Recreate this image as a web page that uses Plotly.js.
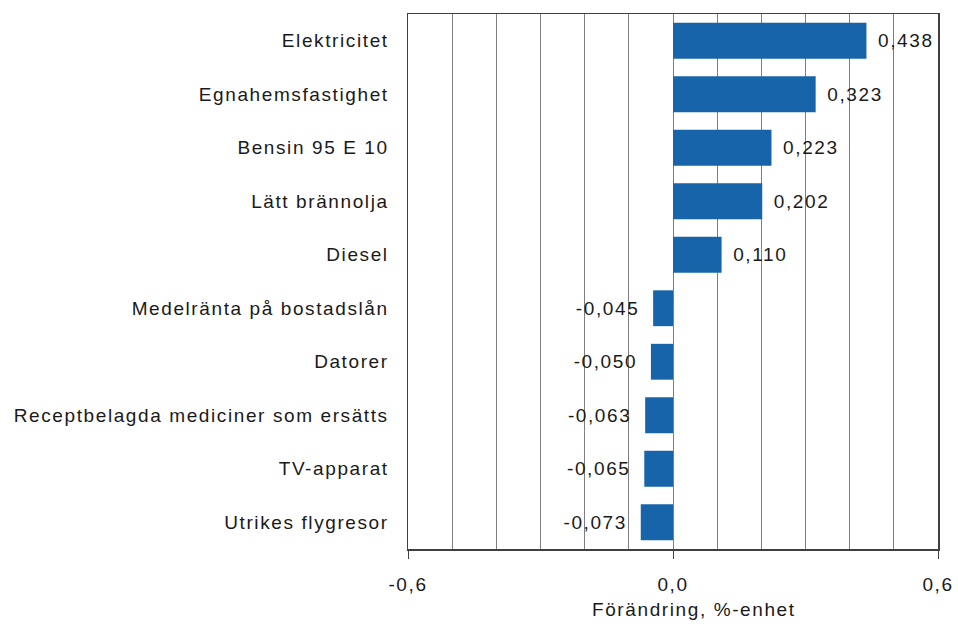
<!DOCTYPE html>
<html>
<head>
<meta charset="utf-8">
<script src="https://cdn.plot.ly/plotly-3.0.1.min.js"></script>
<style>
html,body{margin:0;padding:0;background:#fff;}
#chart{width:958px;height:627px;}
svg text{letter-spacing:1.6px;}
</style>
</head>
<body>
<div id="chart"></div>
<script>
const categories = ["Elektricitet","Egnahemsfastighet","Bensin 95 E 10","Lätt brännolja","Diesel","Medelränta på bostadslån","Datorer","Receptbelagda mediciner som ersätts","TV-apparat","Utrikes flygresor"];
const values = [0.438, 0.323, 0.223, 0.202, 0.110, -0.045, -0.050, -0.063, -0.065, -0.073];
const xTickVals = [-0.6, 0.0, 0.6];
const xTickText = ["-0,6", "0,0", "0,6"];
const xTitle = "Förändring, %-enhet";

const fmt = v => (v < 0 ? "-" : "") + Math.abs(v).toFixed(3).replace(".", ",");
const labels = values.map(v => v >= 0 ? "\u2009\u200a" + fmt(v) : fmt(v) + "\u2009\u2009");
const boundaries = categories.map((c, i) => i - 0.5).concat([categories.length - 0.5]);

const FONT = "Liberation Sans, Arial, sans-serif";
const trace = {
  type: "bar", orientation: "h",
  y: categories, x: values,
  marker: {color: "#1764ab"},
  text: labels, textposition: "outside", cliponaxis: false,
  textfont: {family: FONT, size: 19, color: "#1a1a1a"},
  hoverinfo: "none"
};

const layout = {
  width: 958, height: 627,
  margin: {l: 408, r: 20, t: 14, b: 78},
  paper_bgcolor: "#fff", plot_bgcolor: "#fff",
  showlegend: false, bargap: 0.33,
  font: {family: FONT, size: 19, color: "#1a1a1a"},
  xaxis: {
    range: [-0.6, 0.6], tickvals: xTickVals, ticktext: xTickText,
    showgrid: true, gridcolor: "#7f7f7f", gridwidth: 1,
    minor: {dtick: 0.1, tick0: 0, showgrid: true, gridcolor: "#7f7f7f", gridwidth: 1, ticks: ""},
    zeroline: false,
    showline: true, linecolor: "#404040", linewidth: 1.5, mirror: true,
    ticks: "outside", ticklen: 8, tickcolor: "#404040", ticklabelstandoff: 10,
    tickfont: {family: FONT, size: 19, color: "#1a1a1a"},
    fixedrange: true
  },
  yaxis: {
    type: "category", categoryarray: categories, range: [9.5, -0.5],
    showgrid: false, zeroline: false,
    showline: true, linecolor: "#404040", linewidth: 1.5, mirror: true,
    ticks: "", ticklabelstandoff: 14,
    tickfont: {family: FONT, size: 19, color: "#1a1a1a"},
    fixedrange: true
  },
  yaxis2: {
    overlaying: "y", anchor: "free", position: 0.5, side: "left",
    range: [9.5, -0.5], tickvals: boundaries,
    showticklabels: false, showgrid: false, zeroline: false,
    showline: true, linecolor: "#7f7f7f", linewidth: 1,
    ticks: "outside", ticklen: 8, tickcolor: "#7f7f7f",
    fixedrange: true
  },
  annotations: [{
    text: xTitle, xref: "paper", yref: "paper", x: 0.54, y: 0,
    xanchor: "center", yanchor: "top", yshift: -48, showarrow: false,
    font: {family: FONT, size: 19, color: "#1a1a1a"}
  }]
};

Plotly.newPlot("chart", [trace], layout, {displayModeBar: false, staticPlot: true});
</script>
</body>
</html>
